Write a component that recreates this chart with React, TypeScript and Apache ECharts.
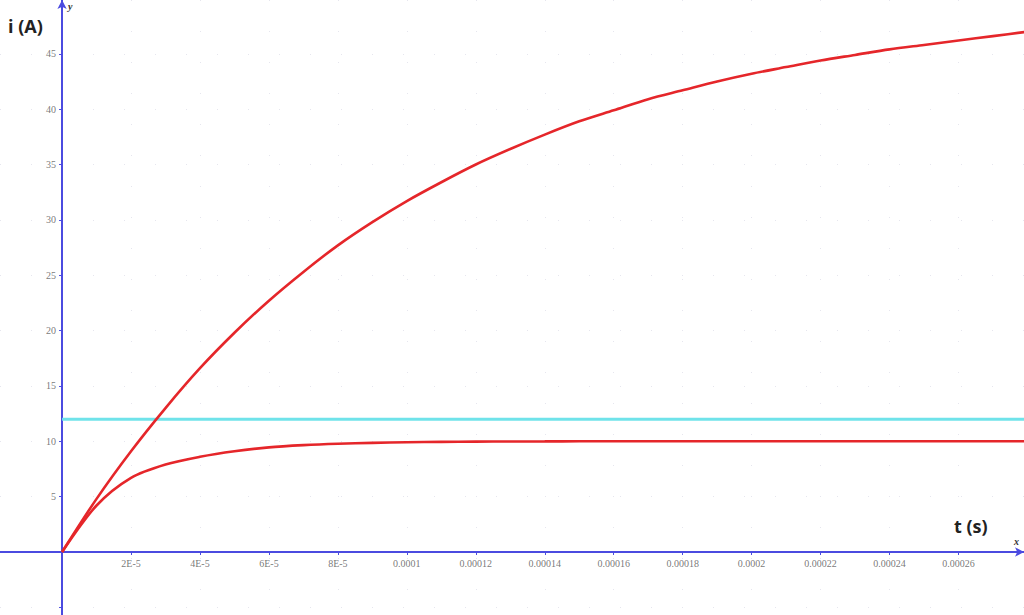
import React, { useEffect, useRef } from "react";
import * as echarts from "echarts";

// time in seconds
const tValues = [0, 1e-5, 2e-5, 3e-5, 4e-5, 5e-5, 6e-5, 7e-5, 8e-5, 9e-5, 1e-4, 1.1e-4, 1.2e-4, 1.3e-4, 1.4e-4, 1.5e-4, 1.6e-4, 1.7e-4, 1.8e-4, 1.9e-4, 2e-4, 2.1e-4, 2.2e-4, 2.3e-4, 2.4e-4, 2.5e-4, 2.6e-4, 2.7e-4, 2.8e-4];
const upperCurrent = [0, 4.8, 9.1, 13.0, 16.6, 19.8, 22.7, 25.3, 27.7, 29.8, 31.7, 33.4, 35.0, 36.4, 37.7, 38.9, 39.9, 40.9, 41.7, 42.5, 43.2, 43.8, 44.4, 44.9, 45.4, 45.8, 46.2, 46.6, 47.0];
const lowerCurrent = [0, 4.2, 6.7, 7.9, 8.6, 9.1, 9.45, 9.65, 9.78, 9.86, 9.91, 9.95, 9.97, 9.98, 9.99, 10, 10, 10, 10, 10, 10, 10, 10, 10, 10, 10, 10, 10, 10];
const limitLevel = 12;
const limitT = [0, 2.8e-4];

const xTickValues = [2e-5, 4e-5, 6e-5, 8e-5, 1e-4, 1.2e-4, 1.4e-4, 1.6e-4, 1.8e-4, 2e-4, 2.2e-4, 2.4e-4, 2.6e-4];
const xTickLabels = ["2E-5", "4E-5", "6E-5", "8E-5", "0.0001", "0.00012", "0.00014", "0.00016", "0.00018", "0.0002", "0.00022", "0.00024", "0.00026"];
const yTickValues = [5, 10, 15, 20, 25, 30, 35, 40, 45];
const yTickMarks = [-5, 5, 10, 15, 20, 25, 30, 35, 40, 45];

const AXIS_BLUE = "#4b4be0";
const RED = "#e5262a";
const LABEL_FONT = "Liberation Serif, DejaVu Serif, serif";

export default function App() {
  const ref = useRef<HTMLDivElement>(null);
  useEffect(() => {
    if (!ref.current) return;
    const chart = echarts.init(ref.current, null, { renderer: "svg" });
    const pair = (ts: number[], vs: number[]) => ts.map((t, i) => [t, vs[i]]);
    chart.setOption({
      animation: false,
      backgroundColor: "#ffffff",
      grid: { left: 0, right: 0, top: 0, bottom: 0, containLabel: false, outerBoundsMode: "none" },
      xAxis: {
        type: "value",
        min: -1.8e-5,
        max: 2.79e-4,
        axisLine: {
          onZero: true,
          lineStyle: { color: AXIS_BLUE, width: 2 },
          symbol: ["none", "arrow"],
          symbolSize: [7, 9],
        },
        axisTick: { show: true, customValues: xTickValues, length: 3, inside: false, lineStyle: { color: AXIS_BLUE } },
        axisLabel: { show: false },
        splitLine: { show: true, lineStyle: { color: "#e6e6ee", type: [1, 30] } },
      },
      yAxis: {
        type: "value",
        min: -5.69,
        max: 49.86,
        axisLine: {
          onZero: true,
          lineStyle: { color: AXIS_BLUE, width: 2 },
          symbol: ["none", "arrow"],
          symbolSize: [7, 9],
        },
        axisTick: { show: true, customValues: yTickMarks, length: 3, inside: false, lineStyle: { color: AXIS_BLUE } },
        axisLabel: { show: false },
        splitLine: { show: true, lineStyle: { color: "#e6e6ee", type: [1, 30] } },
      },
      series: [
        {
          type: "line",
          data: pair(limitT, [limitLevel, limitLevel]),
          showSymbol: false,
          lineStyle: { color: "#6fe3ea", width: 3 },
          z: 2,
          silent: true,
        },
        {
          type: "line",
          data: pair(tValues, upperCurrent),
          showSymbol: false,
          smooth: 0.3,
          lineStyle: { color: RED, width: 2.6 },
          z: 3,
          silent: true,
        },
        {
          type: "line",
          data: pair(tValues, lowerCurrent),
          showSymbol: false,
          smooth: 0.3,
          lineStyle: { color: RED, width: 2.6 },
          z: 3,
          silent: true,
        },
        {
          type: "scatter",
          silent: true,
          symbolSize: 0,
          data: xTickValues.map((t, i) => ({ value: [t, 0], name: xTickLabels[i] })),
          label: {
            show: true,
            position: "bottom",
            distance: 6,
            formatter: (p: any) => p.name,
            fontFamily: LABEL_FONT,
            fontSize: 10,
            color: "#555",
          },
        },
        {
          type: "scatter",
          silent: true,
          symbolSize: 0,
          data: yTickValues.map((v) => ({ value: [0, v], name: String(v) })),
          label: {
            show: true,
            position: "left",
            distance: 6,
            formatter: (p: any) => p.name,
            fontFamily: LABEL_FONT,
            fontSize: 10,
            color: "#555",
          },
        },
      ],
      graphic: [
        {
          type: "text",
          left: 8,
          top: 17,
          style: { text: "i (A)", font: "bold 18px 'Open Sans', 'DejaVu Sans', sans-serif", fill: "#222" },
        },
        {
          type: "text",
          left: 954,
          top: 517,
          style: { text: "t (s)", font: "bold 18px 'Open Sans', 'DejaVu Sans', sans-serif", fill: "#222" },
        },
        {
          type: "text",
          left: 68,
          top: 1,
          style: { text: "y", font: "italic bold 10px 'Liberation Serif', serif", fill: "#333" },
        },
        {
          type: "text",
          left: 1014,
          top: 536,
          style: { text: "x", font: "italic bold 10px 'Liberation Serif', serif", fill: "#333" },
        },
      ],
    });
    return () => chart.dispose();
  }, []);
  return (
    <div
      ref={ref}
      style={{ position: "fixed", left: 0, top: 0, width: 1024, height: 615 }}
    />
  );
}
